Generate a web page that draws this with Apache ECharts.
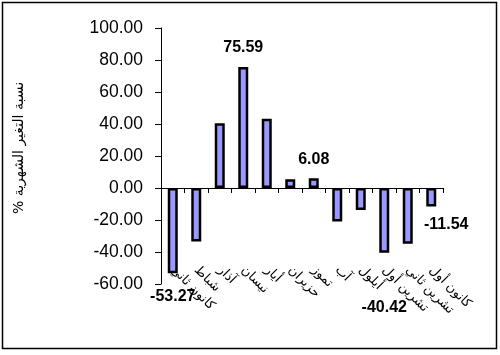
<!DOCTYPE html>
<html>
<head>
<meta charset="utf-8">
<script src="https://cdn.jsdelivr.net/npm/echarts@6/dist/echarts.min.js"></script>
<style>html,body{margin:0;padding:0;background:#fff}#c{width:500px;height:355px}</style>
</head>
<body>
<div id="c"></div>
<script>
const months = ['كانون ثاني','شباط','آذار','نيسان','أيار','حزيران','تموز','آب','أيلول','تشرين أول','تشرين ثاني','كانون أول'];
const changes = [-53.27, -33.5, 40.4, 75.59, 43.3, 5.4, 6.08, -21.0, -13.8, -40.42, -34.8, -11.54];
const shownLabels = ['-53.27', '', '', '75.59', '', '', '6.08', '', '', '-40.42', '', '-11.54'];
const yTicks = { min: -60, max: 100, interval: 20 };
const yName = '\u202Bنسبة التغير الشهرية %\u202C';

const labelPlacement = {
  0: { position: 'bottom', distance: 15, offset: [0, 0] },
  3: { position: 'top', distance: 11, offset: [0, 0] },
  6: { position: 'top', distance: 11, offset: [0, 0] },
  9: { position: 'bottom', distance: 47, offset: [0, 0] },
  11: { position: 'bottom', distance: 10, offset: [15, 0] }
};

const seriesData = changes.map((v, i) => {
  const d = { value: v };
  if (shownLabels[i]) {
    const p = labelPlacement[i];
    d.label = { show: true, position: p.position, distance: p.distance, offset: p.offset };
  }
  return d;
});

const chart = echarts.init(document.getElementById('c'), null, { renderer: 'canvas' });
chart.setOption({
  animation: false,
  backgroundColor: '#fff',
  grid: { left: 161, right: 57, top: 28, bottom: 71, containLabel: false, outerBoundsMode: 'none' },
  xAxis: {
    type: 'category',
    data: months,
    axisLine: { onZero: true, lineStyle: { color: '#000', width: 1 } },
    axisTick: { show: true, length: 5, lineStyle: { color: '#000' } },
    axisLabel: {
      rotate: -45, margin: -16, interval: 0,
      fontFamily: 'DejaVu Sans', fontSize: 13, color: '#000'
    },
    splitLine: { show: false }
  },
  yAxis: {
    type: 'value',
    min: yTicks.min, max: yTicks.max, interval: yTicks.interval,
    name: yName,
    nameLocation: 'middle',
    nameRotate: 90,
    nameGap: 135,
    nameTextStyle: { fontFamily: 'DejaVu Sans', fontSize: 14, color: '#000', padding: [0, 0, 0, 16] },
    axisLine: { show: true, lineStyle: { color: '#000', width: 1 } },
    axisTick: { show: true, length: 6, lineStyle: { color: '#000' } },
    axisLabel: {
      margin: 18, fontFamily: 'Liberation Sans', fontSize: 17.5, color: '#000',
      formatter: v => v.toFixed(2)
    },
    splitLine: { show: false }
  },
  series: [{
    type: 'bar',
    data: seriesData,
    barWidth: 10,
    itemStyle: { color: '#9999FF', borderColor: '#000', borderWidth: 2.5 },
    label: {
      show: false,
      fontFamily: 'Liberation Sans', fontWeight: 'bold', fontSize: 16, color: '#000',
      formatter: p => shownLabels[p.dataIndex]
    }
  }],
  graphic: [{
    type: 'rect', silent: true,
    shape: { x: 2.5, y: 2.5, width: 494, height: 346 },
    style: { fill: 'none', stroke: '#000', lineWidth: 1.5 }
  }]
});
</script>
</body>
</html>
